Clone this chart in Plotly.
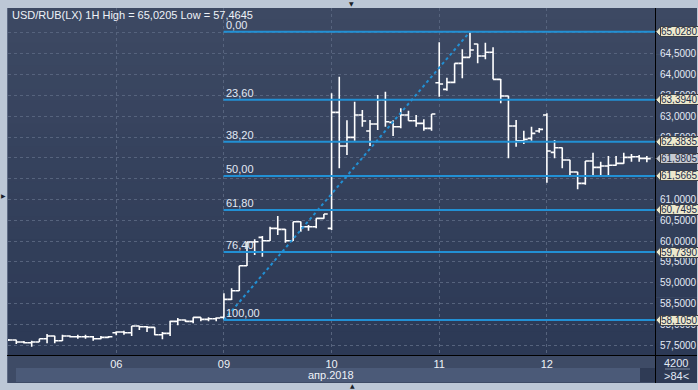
import plotly.graph_objects as go

# ---------------- data ----------------
bars = list(range(84))
open_ = [57.625, 57.625, 57.577, 57.560, 57.577, 57.656, 57.721, 57.608, 57.721, 57.704,
         57.704, 57.704, 57.656, 57.690, 57.800, 57.817, 57.800, 57.961, 57.944, 57.930,
         57.752, 57.786, 58.074, 58.105, 58.074, 58.170, 58.122, 58.136, 58.170, 58.602,
         58.808, 59.409, 59.978, 60.091, 60.009, 60.307, 60.283, 60.009, 60.465, 60.345,
         60.345, 60.547, 60.307, 63.092, 62.283, 62.492, 63.027, 62.643, 62.811, 63.387,
         62.852, 62.746, 63.027, 62.890, 62.828, 62.708, 63.803, 63.644, 63.812, 64.268,
         64.412, 64.732, 64.444, 64.533, 63.884, 63.483, 62.763, 62.410, 62.468, 62.643,
         63.027, 62.131, 62.242, 61.947, 61.658, 61.387, 61.923, 61.771, 61.803, 61.820,
         61.867, 62.011, 62.027, 61.987]
high = [57.649, 57.630, 57.601, 57.608, 57.656, 57.769, 57.730, 57.752, 57.733, 57.752,
        57.752, 57.721, 57.721, 57.721, 57.834, 57.848, 57.961, 57.968, 57.961, 57.935,
        57.817, 58.088, 58.153, 58.117, 58.170, 58.175, 58.170, 58.170, 58.746, 58.866,
        59.409, 59.985, 60.043, 60.122, 60.345, 60.602, 60.290, 60.465, 60.470, 60.386,
        60.547, 60.650, 63.548, 63.947, 62.903, 63.347, 63.147, 62.907, 63.507, 63.587,
        62.903, 63.188, 63.130, 63.027, 62.924, 63.051, 64.772, 63.923, 64.268, 64.605,
        65.0205, 64.740, 64.763, 64.653, 63.890, 63.490, 62.907, 62.650, 62.746, 62.715,
        63.068, 62.427, 62.250, 61.955, 61.665, 61.923, 62.122, 61.906, 62.043, 62.043,
        62.122, 62.091, 62.067, 62.043]
low = [57.601, 57.529, 57.541, 57.4645, 57.577, 57.546, 57.546, 57.600, 57.685, 57.656,
       57.656, 57.608, 57.642, 57.673, 57.738, 57.752, 57.721, 57.865, 57.817, 57.738,
       57.642, 57.721, 57.978, 58.057, 58.026, 58.074, 58.074, 58.074, 58.105, 58.585,
       58.801, 59.402, 59.666, 59.625, 60.000, 60.146, 59.961, 60.000, 60.225, 60.249,
       60.307, 60.540, 60.266, 61.747, 62.067, 62.410, 62.746, 62.283, 62.667, 62.746,
       62.523, 62.708, 62.890, 62.746, 62.650, 62.650, 63.466, 63.611, 63.788, 63.908,
       64.412, 64.268, 64.364, 63.884, 63.308, 61.987, 62.266, 62.331, 62.410, 62.604,
       61.402, 61.987, 61.747, 61.546, 61.243, 61.354, 61.546, 61.586, 61.586, 61.810,
       61.860, 61.906, 61.906, 61.891]
close = [57.625, 57.577, 57.560, 57.577, 57.656, 57.721, 57.608, 57.721, 57.704, 57.704,
         57.704, 57.656, 57.690, 57.704, 57.817, 57.800, 57.961, 57.944, 57.930, 57.752,
         57.786, 58.074, 58.105, 58.074, 58.170, 58.122, 58.136, 58.153, 58.602, 58.808,
         59.409, 59.978, 59.985, 60.009, 60.307, 60.283, 60.009, 60.465, 60.345, 60.345,
         60.547, 60.650, 63.092, 62.283, 62.492, 63.027, 62.883, 62.811, 63.387, 62.866,
         62.746, 63.027, 62.890, 62.828, 62.708, 63.051, 63.771, 63.812, 64.268, 64.412,
         64.588, 64.444, 64.533, 63.884, 63.483, 62.763, 62.410, 62.444, 62.588, 62.684,
         62.163, 62.242, 61.947, 61.658, 61.387, 61.923, 61.771, 61.803, 61.820, 61.867,
         62.011, 62.027, 61.987, 61.9805]

day_ticks = [14, 28, 42, 56, 70]
day_labels = ["06", "09", "10", "11", "12"]
month_label = "апр.2018"
header_text = "USD/RUB(LX) 1H High = 65,0205 Low = 57,4645"

fib_labels = ["0,00", "23,60", "38,20", "50,00", "61,80", "76,40", "100,00"]
fib_values = [65.028, 63.394, 62.3835, 61.5665, 60.7495, 59.739, 58.105]
fib_start_bar = 28
fib_end_bar = 60
last_price = 61.9805

# price grid every 0.5; labels fully hidden behind the level boxes are left out
grid_ticks = [57.5 + 0.5 * k for k in range(16)]
label_ticks = [57.5, 58.0, 58.5, 59.0, 59.5, 60.0, 60.5, 61.0, 62.5, 63.0, 63.5, 64.0, 64.5]
volume_text = "4200"
bars_text = ">84<"

# ---------------- layout geometry ----------------
W, H = 698, 390
LM, RM, TM, BM = 8, 43, 8, 35
PW = W - LM - RM
PH = H - TM - BM
Y_RANGE = [57.266, 65.597]
X_RANGE = [-0.08, 84.06]
DY = (Y_RANGE[1] - Y_RANGE[0]) / PH


def pxx(px):
    return (px - LM) / PW


def pxy(py):
    return (H - BM - py) / PH


def fmt(v):
    return f"{v:.4f}".replace(".", ",")


FONT = "Liberation Sans Narrow, Arial Narrow, Liberation Sans, Arial"
TXT = "#e2e9f5"
AX_SIZE = 10

fig = go.Figure()
fig.add_trace(go.Ohlc(
    x=bars, open=open_, high=high, low=low, close=close,
    increasing=dict(line=dict(color="#ffffff", width=1.6)),
    decreasing=dict(line=dict(color="#ffffff", width=1.6)),
    tickwidth=0.5, showlegend=False, hoverinfo="skip",
))

shapes = []
# vertical gradient background of the chart panel
top_c = (0x3d, 0x49, 0x63)
bot_c = (0x2c, 0x39, 0x55)
N = 30
for k in range(N):
    t = (k + 0.5) / N
    c = tuple(round(top_c[i] + (bot_c[i] - top_c[i]) * t) for i in range(3))
    y0 = 8 + k * (355 - 8) / N
    y1 = 8 + (k + 1) * (355 - 8) / N + 0.6
    shapes.append(dict(type="rect", xref="paper", yref="paper", layer="below",
                       x0=pxx(7), x1=pxx(697), y0=pxy(y1), y1=pxy(y0),
                       line=dict(width=0), fillcolor="rgb(%d,%d,%d)" % c))
# bottom bands
shapes.append(dict(type="rect", xref="paper", yref="paper", layer="below",
                   x0=pxx(7), x1=pxx(655), y0=pxy(383), y1=pxy(355),
                   line=dict(width=0), fillcolor="#3e4b66"))
shapes.append(dict(type="rect", xref="paper", yref="paper", layer="below",
                   x0=pxx(16), x1=pxx(640), y0=pxy(382), y1=pxy(368),
                   line=dict(width=0), fillcolor="#4b5a78"))
shapes.append(dict(type="rect", xref="paper", yref="paper", layer="below",
                   x0=pxx(640), x1=pxx(655), y0=pxy(382), y1=pxy(368),
                   line=dict(width=0), fillcolor="#2f3b55"))
shapes.append(dict(type="rect", xref="paper", yref="paper", layer="below",
                   x0=pxx(655), x1=pxx(697), y0=pxy(383), y1=pxy(355),
                   line=dict(width=0), fillcolor="#2e3a55"))
shapes.append(dict(type="line", xref="paper", yref="paper", layer="above",
                   x0=pxx(665), x1=pxx(690), y0=pxy(369), y1=pxy(369),
                   line=dict(width=1, color="#7d8aa3")))
# frame lines
shapes.append(dict(type="line", xref="paper", yref="paper", layer="above",
                   x0=pxx(7), x1=pxx(697), y0=pxy(355.5), y1=pxy(355.5),
                   line=dict(width=1, color="#000000")))
shapes.append(dict(type="line", xref="paper", yref="paper", layer="above",
                   x0=pxx(655.5), x1=pxx(655.5), y0=pxy(383), y1=pxy(8),
                   line=dict(width=1, color="#000000")))
shapes.append(dict(type="line", xref="paper", yref="paper", layer="below",
                   x0=pxx(7.5), x1=pxx(7.5), y0=pxy(383), y1=pxy(8),
                   line=dict(width=1, color="#5d6a84")))

# Fibonacci levels
for v in fib_values:
    shapes.append(dict(type="line", xref="x", yref="y", layer="above",
                       x0=fib_start_bar - 0.05, x1=X_RANGE[1], y0=v, y1=v,
                       line=dict(width=2, color="#2290d4")))
shapes.append(dict(type="line", xref="x", yref="y", layer="above",
                   x0=fib_start_bar, x1=fib_end_bar, y0=fib_values[-1], y1=fib_values[0],
                   line=dict(width=2, color="#2290d4", dash="dot")))

annotations = []
for lab, v in zip(fib_labels, fib_values):
    annotations.append(dict(x=fib_start_bar, y=v, xref="x", yref="y", text=lab,
                            showarrow=False, xanchor="left", yanchor="bottom",
                            xshift=0, yshift=-1,
                            font=dict(family=FONT, size=11, color=TXT)))

# price boxes on the right axis (arrow tip as shape, box body as annotation)
box_vals = fib_values + [last_price]
for v in box_vals:
    fill = "#c5c9d1" if v == last_price else "#ece8cc"
    dv = 5.0 * DY
    path = f"M {pxx(655.8)},{v} L {pxx(660.5)},{v + dv} L {pxx(660.5)},{v - dv} Z"
    shapes.append(dict(type="path", xref="paper", yref="y", layer="above", path=path,
                       fillcolor=fill, line=dict(color="#3a3f48", width=1)))
    annotations.append(dict(x=pxx(660), y=v, xref="paper", yref="y", text=fmt(v),
                            showarrow=False, xanchor="left", yanchor="middle",
                            height=9, borderpad=0, borderwidth=1,
                            bordercolor="#3a3f48", bgcolor=fill,
                            font=dict(family=FONT, size=AX_SIZE, color="#1e2d4a")))

annotations.append(dict(x=pxx(10), y=pxy(15), xref="paper", yref="paper", text=header_text,
                        showarrow=False, xanchor="left", yanchor="middle",
                        font=dict(family=FONT, size=11, color="#eef2f8")))
annotations.append(dict(x=pxx(331), y=pxy(374.5), xref="paper", yref="paper", text=month_label,
                        showarrow=False, xanchor="center", yanchor="middle",
                        font=dict(family=FONT, size=11, color="#eef2f8")))
annotations.append(dict(x=pxx(676), y=pxy(363), xref="paper", yref="paper", text=volume_text,
                        showarrow=False, xanchor="center", yanchor="middle",
                        font=dict(family=FONT, size=11, color=TXT)))
annotations.append(dict(x=pxx(676), y=pxy(375.5), xref="paper", yref="paper", text=bars_text,
                        showarrow=False, xanchor="center", yanchor="middle",
                        font=dict(family=FONT, size=11, color=TXT)))
for txt, px, py in [("▼", 351, 3.5), ("▲", 352, 385), ("▶", 3, 195)]:
    annotations.append(dict(x=pxx(px), y=pxy(py), xref="paper", yref="paper", text=txt,
                            showarrow=False, xanchor="center", yanchor="middle",
                            font=dict(family="DejaVu Sans", size=6, color="#1a1f2a")))

fig.update_layout(
    width=W, height=H,
    margin=dict(l=LM, r=RM, t=TM, b=BM, pad=0, autoexpand=False),
    paper_bgcolor="#bcc7d6",
    plot_bgcolor="#34415c",
    showlegend=False,
    shapes=shapes,
    annotations=annotations,
    xaxis=dict(range=X_RANGE, rangeslider=dict(visible=False), tickmode="array",
               tickvals=day_ticks, ticktext=day_labels, showgrid=True, automargin=False,
               gridcolor="#56637d", griddash="3px,3px", gridwidth=1, zeroline=False,
               showline=False, ticks="", tickfont=dict(family=FONT, size=11, color="#eef2f8"),
               ticklabelstandoff=1),
    yaxis=dict(range=Y_RANGE, side="right", tickmode="array", tickvals=label_ticks,
               ticktext=[fmt(v) for v in label_ticks], showgrid=False, automargin=False,
               zeroline=False, showline=False, ticks="",
               tickfont=dict(family=FONT, size=AX_SIZE, color=TXT), ticklabelstandoff=4),
    yaxis2=dict(range=Y_RANGE, overlaying="y", side="right", tickmode="array",
                tickvals=grid_ticks, showticklabels=False, showgrid=True, automargin=False,
                gridcolor="#56637d", griddash="3px,3px", gridwidth=1, zeroline=False,
                showline=False, ticks=""),
)
# invisible helper trace so the full 0.5 price grid is drawn
fig.add_trace(go.Scatter(x=[bars[0]], y=[grid_ticks[0]], yaxis="y2", mode="markers",
                         marker=dict(opacity=0), showlegend=False, hoverinfo="skip"))

fig.write_html("out.html", config={"displayModeBar": False},
               post_script="document.body.style.margin='0';document.body.style.overflow='hidden';")
